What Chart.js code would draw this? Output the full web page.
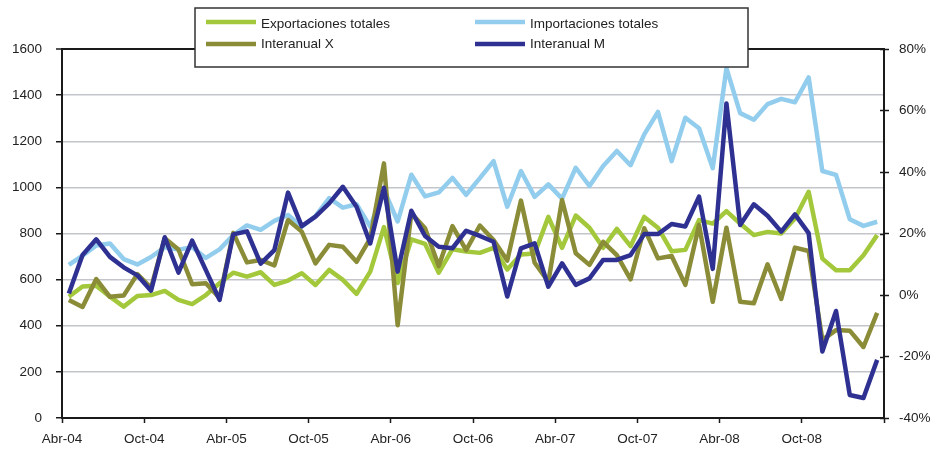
<!DOCTYPE html>
<html>
<head>
<meta charset="utf-8">
<script src="https://cdn.jsdelivr.net/npm/chart.js@4.4.0/dist/chart.umd.min.js"></script>
<style>
html,body{margin:0;padding:0;background:#fff;}
#wrap{width:932px;height:453px;position:relative;}
</style>
</head>
<body>
<div id="wrap"><canvas id="c" width="932" height="453"></canvas></div>
<script>
// Axis tick labels (every 6 months, months run Abr-04 .. Mar-09)
const tickLabels = ['Abr-04','Oct-04','Abr-05','Oct-05','Abr-06','Oct-06','Abr-07','Oct-07','Abr-08','Oct-08'];
const leftTicks = [0, 1600, 200];      // min, max, step
const rightTicks = [-40, 80, 20];      // min, max, step (%)

const seriesNames = ['Exportaciones totales','Importaciones totales','Interanual X','Interanual M'];

// Left axis (millions)
const exportaciones = [
  526, 570, 573, 526, 483, 529, 533, 551, 512, 494, 533, 584, 630, 613, 632, 577,
  596, 628, 577, 642, 599, 538, 635, 828, 585, 775, 755, 630, 732, 722, 716,
  738, 644, 709, 713, 872, 738, 878, 825, 738, 820, 745, 872, 825, 723, 729,
  858, 843, 897, 843, 793, 807, 800, 865, 981, 691, 641, 641, 706, 793
];
const importaciones = [
  664, 704, 748, 757, 689, 666, 698, 740, 730, 740, 694, 731, 793, 835, 816, 855,
  880, 829, 875, 953, 912, 927, 830, 990, 852, 1055, 961, 978, 1041, 968, 1040,
  1114, 916, 1071, 959, 1013, 951, 1085, 1006, 1093, 1158, 1096, 1230, 1327, 1114, 1302,
  1256, 1083, 1517, 1322, 1293, 1361, 1384, 1369, 1477, 1071, 1054, 862, 833, 851
];
// Right axis (%)
const interanualX = [
  -1.6, -3.9, 5.2, -0.6, -0.2, 6.8, 2.3, 18.5, 14.8, 3.5, 3.8, -1.0, 20.2, 10.6, 11.4, 9.6,
  24.4, 20.6, 10.3, 16.3, 15.7, 10.8, 18.4, 42.8, -9.8, 26.6, 21.7, 9.4, 22.4, 14.6, 22.6,
  17.9, 11.2, 30.7, 10.5, 4.3, 30.9, 13.6, 9.8, 17.3, 13.0, 5.1, 21.7, 11.9, 12.7, 3.3,
  22.8, -2.2, 21.9, -2.2, -2.7, 10.0, -1.3, 15.4, 14.3, -14.6, -11.4, -11.6, -16.9, -5.8
];
const interanualM = [
  0.5, 13.0, 18.1, 12.4, 9.0, 6.4, 1.4, 18.8, 7.3, 17.7, 8.1, -1.6, 19.7, 20.7, 10.2, 14.6,
  33.3, 22.4, 25.5, 29.8, 35.2, 28.7, 16.8, 34.9, 7.6, 27.4, 19.2, 15.7, 15.2, 20.9, 19.2,
  17.3, -0.5, 15.2, 16.8, 2.7, 10.3, 3.3, 5.4, 11.4, 11.4, 13.0, 19.8, 19.8, 23.1, 22.3,
  32.0, 8.5, 62.3, 22.8, 29.5, 25.8, 20.6, 26.2, 20.1, -18.4, -5.2, -32.5, -33.5, -21.1
];

const colors = ['#a3c83b', '#93cdee', '#8b8c37', '#2e3192'];
const MONTHS_PER_TICK = 6;
const nMonths = exportaciones.length;

// each month is a category slot; its point sits in the middle of the slot
const toPoints = arr => arr.map((v, i) => ({ x: i + 0.5, y: v }));

const FONT = { family: '"Liberation Sans", Arial, sans-serif', size: 13.5 };
const TXT = '#222';
const AXIS = '#1a1a1a';
const GRID = '#c3c5cb';

const legendBox = {
  id: 'legendBox',
  afterDatasetsDraw(chart) {
    const ctx = chart.ctx;
    const bx = 195, by = 8, bw = 553, bh = 59;
    ctx.save();
    ctx.fillStyle = '#fff';
    ctx.fillRect(bx, by, bw, bh);
    ctx.strokeStyle = '#333';
    ctx.lineWidth = 1.5;
    ctx.strokeRect(bx, by, bw, bh);
    ctx.font = FONT.size + 'px ' + FONT.family;
    ctx.textBaseline = 'middle';
    ctx.textAlign = 'left';
    chart.data.datasets.forEach((ds, i) => {
      const col = i % 2, row = Math.floor(i / 2);
      const sx = bx + 11 + col * 269;
      const sy = by + 14 + row * 22;
      ctx.strokeStyle = ds.borderColor;
      ctx.lineWidth = 4.5;
      ctx.beginPath();
      ctx.moveTo(sx, sy);
      ctx.lineTo(sx + 50, sy);
      ctx.stroke();
      ctx.fillStyle = TXT;
      ctx.fillText(ds.label, sx + 55, sy + 2 - row * 2);
    });
    ctx.restore();
  }
};

// right-axis tick marks cross the axis line
const crossTicks = {
  id: 'crossTicks',
  afterDraw(chart) {
    const s = chart.scales.y1, ctx = chart.ctx;
    ctx.save();
    ctx.strokeStyle = AXIS;
    ctx.lineWidth = 1.5;
    s.ticks.forEach(t => {
      const py = Math.round(s.getPixelForValue(t.value)) + 0.5;
      ctx.beginPath();
      ctx.moveTo(s.left - 4, py);
      ctx.lineTo(s.left, py);
      ctx.stroke();
    });
    ctx.restore();
  }
};

const datasets = [
  { label: seriesNames[0], data: toPoints(exportaciones), borderColor: colors[0], yAxisID: 'y', order: 3 },
  { label: seriesNames[1], data: toPoints(importaciones), borderColor: colors[1], yAxisID: 'y', order: 2 },
  { label: seriesNames[2], data: toPoints(interanualX), borderColor: colors[2], yAxisID: 'y1', order: 1 },
  { label: seriesNames[3], data: toPoints(interanualM), borderColor: colors[3], yAxisID: 'y1', order: 0 }
];

new Chart(document.getElementById('c'), {
  type: 'line',
  data: { datasets },
  plugins: [legendBox, crossTicks],
  options: {
    responsive: false,
    animation: false,
    devicePixelRatio: 1,
    layout: { padding: { top: 49, left: 0, right: 0, bottom: 0 } },
    elements: {
      line: { borderWidth: 4.5, tension: 0, borderJoinStyle: 'round', borderCapStyle: 'butt', fill: false },
      point: { radius: 0, hoverRadius: 0 }
    },
    plugins: { legend: { display: false }, tooltip: { enabled: false } },
    scales: {
      x: {
        type: 'linear',
        position: 'bottom',
        min: 0,
        max: nMonths,
        afterBuildTicks: s => {
          const t = [];
          for (let v = 0; v <= nMonths; v += MONTHS_PER_TICK) t.push({ value: v });
          s.ticks = t;
        },
        afterFit: s => { s.height = 35; },
        ticks: {
          autoSkip: false, maxRotation: 0, padding: 8,
          color: TXT, font: FONT,
          callback: v => tickLabels[v / MONTHS_PER_TICK] || ''
        },
        grid: { drawOnChartArea: false, drawTicks: true, tickLength: 5, tickColor: AXIS, tickWidth: 1.5 },
        border: { color: AXIS, width: 2 }
      },
      y: {
        position: 'left',
        min: leftTicks[0], max: leftTicks[1],
        afterFit: s => { s.width = 62; },
        ticks: { stepSize: leftTicks[2], color: TXT, font: FONT, padding: 14, callback: v => String(v) },
        grid: {
          color: c => (c.tick && c.tick.value === leftTicks[1]) ? AXIS : GRID,
          lineWidth: c => (c.tick && c.tick.value === leftTicks[1]) ? 2 : 1.5,
          tickLength: 6, tickColor: AXIS, tickWidth: 1.5
        },
        border: { color: AXIS, width: 2 }
      },
      y1: {
        position: 'right',
        min: rightTicks[0], max: rightTicks[1],
        afterFit: s => { s.width = 48; },
        ticks: { stepSize: rightTicks[2], color: TXT, font: FONT, padding: 10, callback: v => v + '%' },
        grid: { drawOnChartArea: false, tickLength: 5, tickColor: AXIS, tickWidth: 1.5 },
        border: { color: AXIS, width: 2 }
      }
    }
  }
});
</script>
</body>
</html>
